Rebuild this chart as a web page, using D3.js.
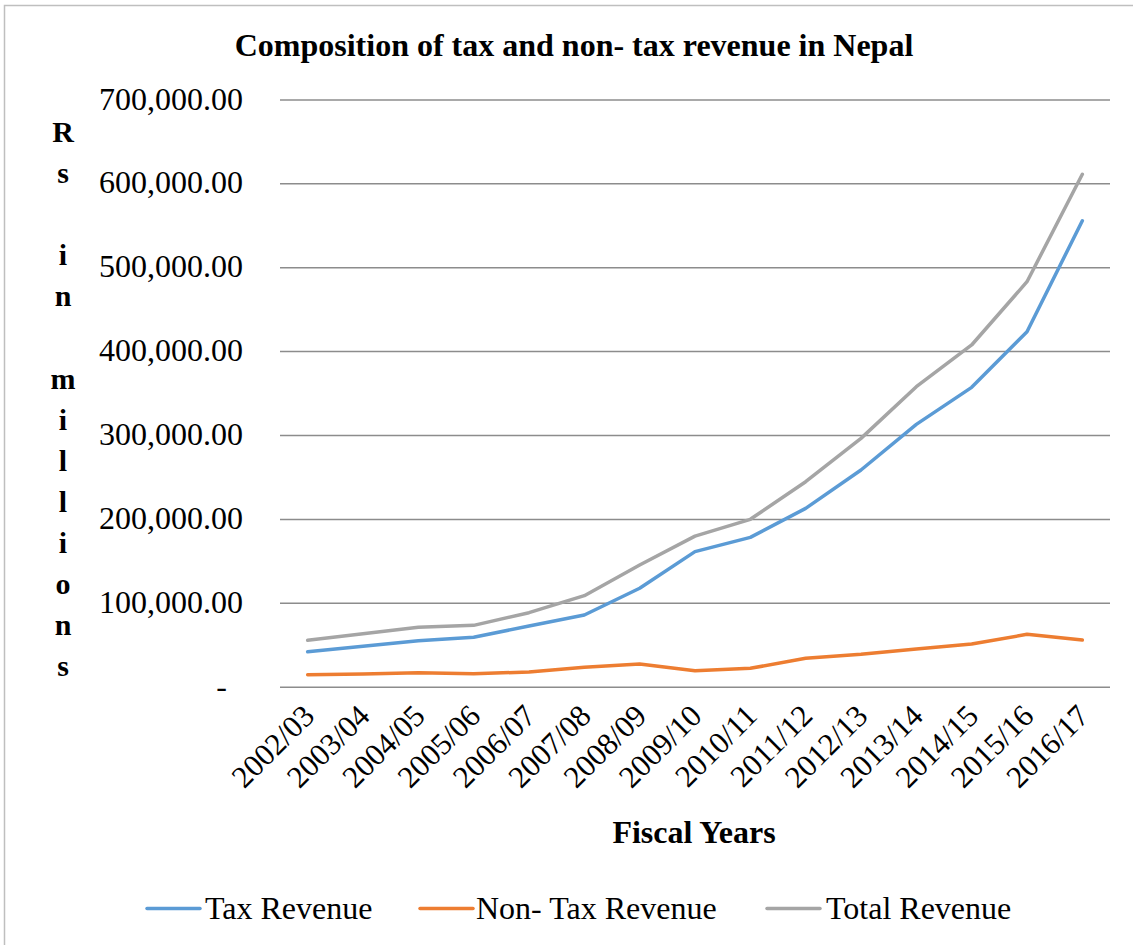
<!DOCTYPE html>
<html>
<head>
<meta charset="utf-8">
<script src="https://cdn.jsdelivr.net/npm/d3@7/dist/d3.min.js"></script>
<style>
  html, body { margin: 0; padding: 0; background: #ffffff; }
  svg { display: block; }
  text { font-family: "Liberation Serif", "Times New Roman", serif; fill: #000; }
</style>
</head>
<body>
<svg id="chart" width="1133" height="945"></svg>
<script>
// Fiscal years on the x axis
const years = ["2002/03", "2003/04", "2004/05", "2005/06", "2006/07", "2007/08", "2008/09",
  "2009/10", "2010/11", "2011/12", "2012/13", "2013/14", "2014/15", "2015/16", "2016/17"];

// Revenue in Rs millions
const taxRevenue = [41700, 48100, 54800, 58900, 72300, 85500, 117300, 161000, 178000,
  212600, 258300, 312700, 356800, 423000, 555400];
const nonTaxRevenue = [14300, 15100, 16700, 15500, 17500, 23100, 27000, 19000, 21900,
  33800, 38600, 44900, 50900, 62400, 55700];
const totalRevenue = [55300, 63200, 70800, 73100, 88200, 108500, 145000, 179500, 199500,
  244300, 296000, 357600, 407300, 482700, 610700];

const yTicks = [0, 100000, 200000, 300000, 400000, 500000, 600000, 700000];
const seriesNames = ["Tax Revenue", "Non- Tax Revenue", "Total Revenue"];
const seriesColors = ["#5B9BD5", "#ED7D31", "#A5A5A5"];

const series = [taxRevenue, nonTaxRevenue, totalRevenue];

const SERIF = "'Liberation Serif', 'Times New Roman', serif";

const svg = d3.select("#chart");

// chart frame
svg.append("rect")
  .attr("x", 4.5).attr("y", 5.5)
  .attr("width", 1150).attr("height", 960)
  .attr("fill", "#fff").attr("stroke", "#bfbfbf").attr("stroke-width", 1.5);

const x = d3.scalePoint().domain(years).range([280, 1110]).padding(0.5);
const y = d3.scaleLinear().domain([0, 700000]).range([686.7, 99.4]);

// title
svg.append("text")
  .attr("x", 574).attr("y", 56)
  .attr("text-anchor", "middle")
  .attr("font-family", SERIF)
  .attr("font-weight", "bold")
  .attr("font-size", 32)
  .text("Composition of tax and non- tax revenue in Nepal");

// horizontal gridlines + y labels
const fmt = d3.format(",.2f");
const yAxis = d3.axisLeft(y)
  .tickValues(yTicks)
  .tickSize(-(1110 - 280))
  .tickPadding(37)
  .tickFormat(d => d === 0 ? "-" : fmt(d));

const gy = svg.append("g")
  .attr("transform", "translate(280,0)")
  .call(yAxis)
  .attr("font-family", SERIF);
gy.select(".domain").remove();
gy.selectAll(".tick line").attr("stroke", "#8c8c8c").attr("stroke-width", 1.5);
gy.selectAll(".tick text")
  .attr("font-size", 32)
  .attr("font-family", SERIF)
  .attr("dy", "0.3em")
  .attr("dx", d => d === 0 ? -16 : 0);

// x labels, rotated
const xAxis = d3.axisBottom(x).tickSize(0).tickPadding(0);
const gx = svg.append("g")
  .attr("transform", "translate(0,686.7)")
  .call(xAxis)
  .attr("font-family", SERIF);
gx.select(".domain").remove();
gx.selectAll(".tick text")
  .attr("font-size", 31)
  .attr("font-family", SERIF)
  .attr("text-anchor", "end")
  .attr("transform", "translate(-3,20) rotate(-45)")
  .attr("dy", "0.5em")
  .attr("y", 0);

// revenue lines
const line = d3.line()
  .x((d, i) => x(years[i]))
  .y(d => y(d));

series.forEach((vals, k) => {
  svg.append("path")
    .datum(vals)
    .attr("fill", "none")
    .attr("stroke", seriesColors[k])
    .attr("stroke-width", 3.5)
    .attr("stroke-linejoin", "round")
    .attr("stroke-linecap", "round")
    .attr("d", line);
});

// x axis title
svg.append("text")
  .attr("x", 694).attr("y", 843)
  .attr("text-anchor", "middle")
  .attr("font-family", SERIF)
  .attr("font-weight", "bold")
  .attr("font-size", 32)
  .text("Fiscal Years");

// y axis title, stacked letters
const yTitle = "Rs in millions".split("");
svg.append("g").selectAll("text")
  .data(yTitle)
  .join("text")
  .attr("x", 63)
  .attr("y", (d, i) => 142 + i * 41.1)
  .attr("text-anchor", "middle")
  .attr("font-family", SERIF)
  .attr("font-weight", "bold")
  .attr("font-size", 30)
  .text(d => d);

// legend
const legendItems = [
  { x: 147, tx: 205 },
  { x: 420, tx: 476 },
  { x: 767, tx: 826 }
];
const lg = svg.append("g");
seriesNames.forEach((name, k) => {
  const it = legendItems[k];
  lg.append("line")
    .attr("x1", it.x).attr("x2", it.x + 53)
    .attr("y1", 908.5).attr("y2", 908.5)
    .attr("stroke", seriesColors[k])
    .attr("stroke-width", 3.5)
    .attr("stroke-linecap", "round");
  lg.append("text")
    .attr("x", it.tx).attr("y", 919)
    .attr("font-family", SERIF)
    .attr("font-size", 32)
    .text(name);
});
</script>
</body>
</html>
